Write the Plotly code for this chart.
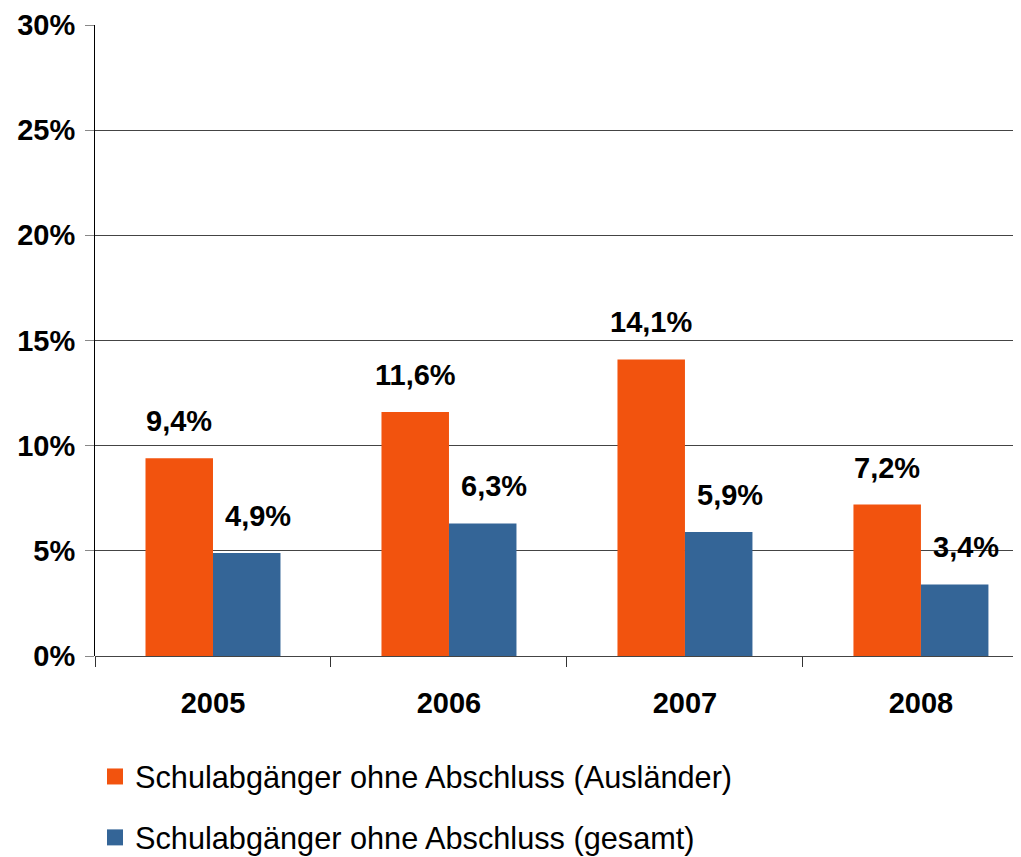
import plotly.graph_objects as go

years = ["2005", "2006", "2007", "2008"]
auslaender = [9.4, 11.6, 14.1, 7.2]
gesamt = [4.9, 6.3, 5.9, 3.4]
series_names = ["Schulabgänger ohne Abschluss (Ausländer)", "Schulabgänger ohne Abschluss (gesamt)"]
colors = ["#F2530E", "#346597"]
y_ticks = [0, 5, 10, 15, 20, 25, 30]

BOLD = "Liberation Sans"
xpos = list(range(len(years)))

fig = go.Figure()
for vals, name, col in zip([auslaender, gesamt], series_names, colors):
    fig.add_trace(go.Bar(x=xpos, y=vals, name=name, marker=dict(color=col, line=dict(width=0)),
                         showlegend=False))
for name, col in zip(series_names, colors):
    fig.add_trace(go.Scatter(x=[None], y=[None], mode="markers", name=name, legendgroup=name,
                             marker=dict(symbol="square", size=20, color=col)))

bargap = 0.428
half = (1 - bargap) / 4
for vals, off, xs in [(auslaender, -half, 0), (gesamt, half, 11)]:
    for i, v in enumerate(vals):
        fig.add_annotation(x=i + off, y=v, text="<b>" + f"{v:.1f}".replace(".", ",") + "%</b>",
                           showarrow=False, yanchor="bottom", yshift=19, xshift=xs,
                           font=dict(family=BOLD, size=29, color="#000"))

fig.update_layout(
    width=1013, height=849,
    margin=dict(l=87, r=0, t=17, b=201, autoexpand=False),
    paper_bgcolor="white", plot_bgcolor="white",
    barmode="group", bargap=bargap, bargroupgap=0,
    font=dict(family=BOLD, color="#000"),
    legend=dict(x=0.0, xanchor="left", y=-0.149, yanchor="top", orientation="v",
                font=dict(family="Liberation Sans", size=30.7, color="#000"),
                tracegroupgap=18, itemsizing="trace", bgcolor="rgba(0,0,0,0)"),
    xaxis=dict(range=[-0.5, 3.424], tickmode="array", tickvals=xpos, ticktext=["<b>%s</b>" % y for y in years],
               ticks="", showgrid=False, zeroline=False, showline=False,
               tickfont=dict(family=BOLD, size=29, color="#000"), ticklabelstandoff=27,
               minor=dict(tickmode="array", tickvals=[-0.5, 0.5, 1.5, 2.5], ticks="outside",
                          ticklen=10, tickcolor="#333", tickwidth=1, showgrid=False)),
    yaxis=dict(range=[0, 30], tickmode="array", tickvals=y_ticks,
               ticktext=["<b>%d%%</b>" % t for t in y_ticks],
               ticks="outside", ticklen=9, tickcolor="#888", tickwidth=1,
               showgrid=True, gridcolor="#444", gridwidth=1,
               zeroline=True, zerolinecolor="#444", zerolinewidth=1,
               showline=True, linecolor="#000", linewidth=1,
               tickfont=dict(family=BOLD, size=29, color="#000"), ticklabelstandoff=4),
)

fig.write_html("out.html")
